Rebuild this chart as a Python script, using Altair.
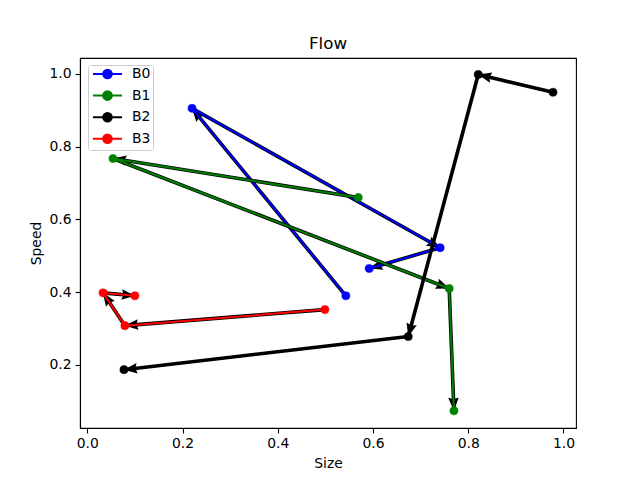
import altair as alt
import pandas as pd

# ---- data ----
series_names = ["B0", "B1", "B2", "B3"]
series_colors = ["#0000ff", "#008000", "#000000", "#ff0000"]

b0_x = [0.543, 0.220, 0.741, 0.592]
b0_y = [0.390, 0.905, 0.522, 0.465]
b1_x = [0.569, 0.054, 0.760, 0.770]
b1_y = [0.660, 0.767, 0.410, 0.074]
b2_x = [0.978, 0.821, 0.674, 0.077]
b2_y = [0.949, 0.998, 0.278, 0.187]
b3_x = [0.499, 0.079, 0.033, 0.100]
b3_y = [0.352, 0.308, 0.398, 0.390]

x_ticks = [0.0, 0.2, 0.4, 0.6, 0.8, 1.0]
y_ticks = [0.2, 0.4, 0.6, 0.8, 1.0]

# ---- build tables ----
xs = [b0_x, b1_x, b2_x, b3_x]
ys = [b0_y, b1_y, b2_y, b3_y]
rows = []
for name, sx, sy in zip(series_names, xs, ys):
    for i in range(len(sx)):
        rows.append({"series": name, "order": i, "x": sx[i], "y": sy[i]})
pts = pd.DataFrame(rows)

seg_rows = []
for name, sx, sy in zip(series_names, xs, ys):
    for i in range(len(sx) - 1):
        seg_rows.append({"series": name, "order": i, "x": sx[i], "y": sy[i],
                         "x2": sx[i + 1], "y2": sy[i + 1]})
segs = pd.DataFrame(seg_rows)

# ---- layout ----
W, H = 496, 370
x_dom = [-0.0153, 1.0263]
y_dom = [0.0268, 1.0432]
SX = W / (x_dom[1] - x_dom[0])
SY = H / (y_dom[1] - y_dom[0])

xscale = alt.Scale(domain=x_dom, nice=False, zero=False)
yscale = alt.Scale(domain=y_dom, nice=False, zero=False)
cscale = alt.Scale(domain=series_names, range=series_colors)

head_path = "M0,0 L0.4,1 L0,0.87 L-0.4,1 Z"
legend_path = ("M-0.667,0 L4.167,0 M1.03,0 A0.72,0.72 0 1,1 2.47,0 "
               "A0.72,0.72 0 1,1 1.03,0 Z")

xenc = alt.X("x:Q", scale=xscale, title="Size",
             axis=alt.Axis(values=x_ticks, format=".1f", grid=False))
yenc = alt.Y("y:Q", scale=yscale, title="Speed",
             axis=alt.Axis(values=y_ticks, format=".1f", grid=False))

leg = alt.Legend(title=None, orient="none", legendX=8, legendY=7,
                 labelExpr="datum.label + '\u00a0\u00a0\u00a0\u00a0\u00a0'")

layers = []
for name in series_names:
    seg_base = alt.Chart(segs).transform_filter(alt.datum.series == name)
    shafts = seg_base.mark_rule(color="black", strokeWidth=3.6, strokeCap="butt").encode(
        x=xenc, y=yenc, x2="x2:Q", y2="y2:Q")
    heads = seg_base.transform_calculate(
        angle=f"(atan2((datum.x2-datum.x)*{SX}, (datum.y2-datum.y)*{SY})*180/PI + 360) % 360"
    ).mark_point(shape=head_path, filled=True, color="black", size=700,
                 opacity=1, strokeWidth=0).encode(
        x=alt.X("x2:Q", scale=xscale),
        y=alt.Y("y2:Q", scale=yscale),
        angle=alt.Angle("angle:Q", scale=None))
    pt_base = alt.Chart(pts).transform_filter(alt.datum.series == name)
    line = pt_base.mark_line(strokeWidth=2).encode(
        x=xenc, y=yenc, order="order:Q",
        color=alt.Color("series:N", scale=cscale, legend=leg))
    dots = pt_base.mark_point(filled=True, size=66, opacity=1, strokeWidth=0.5).encode(
        x=xenc, y=yenc,
        fill=alt.Fill("series:N", scale=cscale, legend=leg),
        stroke=alt.Stroke("series:N", scale=cscale, legend=leg))
    layers += [shafts, heads, line, dots]

chart = alt.layer(*layers).properties(
    width=W, height=H,
    title=alt.Title("Flow", fontSize=16.7, font="DejaVu Sans", fontWeight="normal",
                    color="black", anchor="middle", offset=8, dy=16, baseline="alphabetic"),
    autosize=alt.AutoSizeParams(type="none"),
    padding={"left": 80, "top": 58, "right": 64, "bottom": 52},
).configure(background="white").configure_view(
    stroke="black", strokeWidth=1.1
).configure_axis(
    grid=False, domainColor="black", domainWidth=1.1, tickColor="black",
    tickWidth=1.1, tickSize=4.9, labelFont="DejaVu Sans", labelFontSize=13.9,
    labelColor="black", labelPadding=4, titleFont="DejaVu Sans", titleFontSize=13.9,
    titleFontWeight="normal", titleColor="black", titlePadding=6,
).configure_legend(
    symbolType=legend_path, symbolSize=144, symbolStrokeWidth=2,
    labelFontSize=13.9, labelFont="DejaVu Sans", labelOffset=28, labelColor="black",
    padding=2, rowPadding=3.6, strokeColor="#cccccc", fillColor="white", cornerRadius=3,
)

chart.save("out.html", embed_options={"renderer": "svg", "actions": False})
